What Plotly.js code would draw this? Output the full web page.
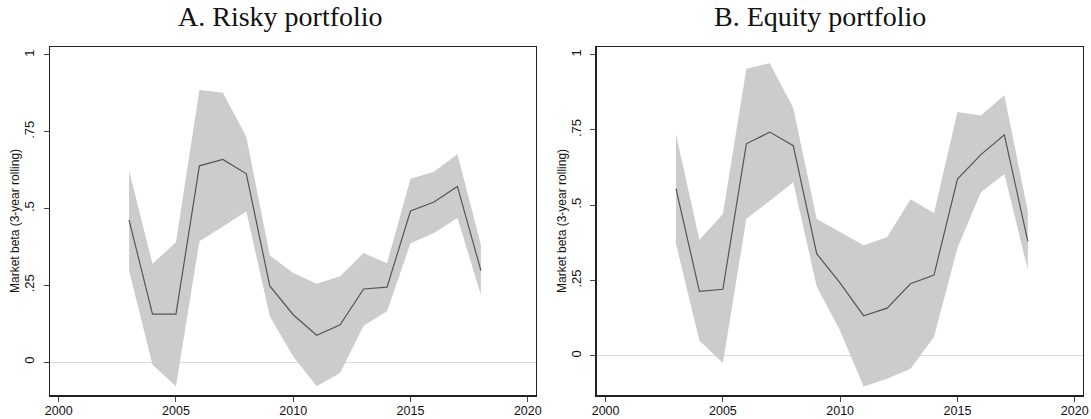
<!DOCTYPE html>
<html>
<head>
<meta charset="utf-8">
<script src="https://cdn.plot.ly/plotly-3.0.1.min.js"></script>
<style>html,body{margin:0;padding:0;background:#fff;}#chart{width:1091px;height:419px;}</style>
</head>
<body>
<div id="chart"></div>
<script>
const years = [2003,2004,2005,2006,2007,2008,2009,2010,2011,2012,2013,2014,2015,2016,2017,2018];

const riskyBeta  = [0.463,0.156,0.156,0.639,0.660,0.613,0.248,0.154,0.087,0.121,0.238,0.244,0.492,0.521,0.572,0.298];
const riskyUpper = [0.624,0.320,0.390,0.886,0.877,0.734,0.347,0.290,0.255,0.279,0.355,0.322,0.597,0.620,0.677,0.382];
const riskyLower = [0.298,-0.009,-0.079,0.393,0.441,0.490,0.149,0.018,-0.079,-0.036,0.118,0.165,0.387,0.420,0.469,0.219];

const equityBeta  = [0.555,0.214,0.221,0.704,0.743,0.698,0.339,0.241,0.133,0.158,0.239,0.268,0.587,0.668,0.734,0.380];
const equityUpper = [0.736,0.385,0.471,0.953,0.972,0.823,0.454,0.411,0.367,0.394,0.520,0.474,0.810,0.798,0.865,0.480];
const equityLower = [0.372,0.050,-0.024,0.455,0.515,0.576,0.230,0.083,-0.102,-0.076,-0.043,0.062,0.358,0.543,0.604,0.286];

const xTicks = [2000,2005,2010,2015,2020];
const yTickVals = [0,0.25,0.5,0.75,1];
const yTickText = ['0','.25','.5','.75','1'];
const panelTitles = ['A. Risky portfolio','B. Equity portfolio'];
const yTitle = 'Market beta (3-year rolling)';

const bandColor = '#cccccc';
const lineColor = '#555555';

function panel(lower, upper, mid, xa, ya) {
  return [
    {x: years, y: lower, xaxis: xa, yaxis: ya, type: 'scatter', mode: 'lines',
     line: {width: 0, color: bandColor}, hoverinfo: 'skip', showlegend: false},
    {x: years, y: upper, xaxis: xa, yaxis: ya, type: 'scatter', mode: 'lines',
     fill: 'tonexty', fillcolor: bandColor, line: {width: 0, color: bandColor}, showlegend: false},
    {x: years, y: mid, xaxis: xa, yaxis: ya, type: 'scatter', mode: 'lines',
     line: {width: 1.2, color: lineColor}, showlegend: false}
  ];
}

const data = [].concat(
  panel(riskyLower, riskyUpper, riskyBeta, 'x', 'y'),
  panel(equityLower, equityUpper, equityBeta, 'x2', 'y2')
);

const xTickFont = {family: 'Liberation Sans, Arial, sans-serif', size: 12.5, color: '#111'};
const yTickFont = {family: 'Liberation Sans, Arial, sans-serif', size: 13, color: '#111'};
function xaxis(domain, range) {
  return {domain: domain, range: range, tickvals: xTicks, ticks: 'outside', ticklen: 5,
    tickcolor: '#444', tickwidth: 1, showgrid: false, zeroline: false,
    showline: true, mirror: true, linecolor: '#222', linewidth: 1.5, tickfont: xTickFont,
    ticklabelstandoff: -2};
}
function yaxis(range, anchor) {
  return {domain: [0.0561, 0.8878], range: range, anchor: anchor, tickvals: yTickVals, ticktext: yTickText,
    tickangle: -90, ticks: 'outside', ticklen: 5, tickcolor: '#444', tickwidth: 1,
    ticklabelstandoff: 4,
    showgrid: false, zeroline: true, zerolinecolor: '#dcdcdc', zerolinewidth: 1,
    showline: true, mirror: true, linecolor: '#222', linewidth: 1.5, tickfont: yTickFont};
}

const titleFont = {family: 'Liberation Serif, Times New Roman, serif', size: 28, color: '#111'};
const yTitleFont = {family: 'Liberation Sans, Arial, sans-serif', size: 12, color: '#111'};
const yMid = 1 - 221/419;

const layout = {
  width: 1091, height: 419,
  margin: {l: 0, r: 0, t: 0, b: 0},
  paper_bgcolor: '#fff', plot_bgcolor: '#fff',
  showlegend: false,
  xaxis: Object.assign(xaxis([0.04583, 0.49129], [1999.63, 2020.35]), {anchor: 'y'}),
  yaxis: yaxis([-0.109, 1.026], 'x'),
  xaxis2: Object.assign(xaxis([0.54693, 0.99239], [1999.62, 2020.34]), {anchor: 'y2'}),
  yaxis2: yaxis([-0.132, 1.0256], 'x2'),
  annotations: [
    {text: panelTitles[0], xref: 'paper', yref: 'paper', x: 280/1091, y: 1 - 16/419,
     xanchor: 'center', yanchor: 'middle', showarrow: false, font: titleFont},
    {text: panelTitles[1], xref: 'paper', yref: 'paper', x: 820/1091, y: 1 - 16/419,
     xanchor: 'center', yanchor: 'middle', showarrow: false, font: titleFont},
    {text: yTitle, xref: 'paper', yref: 'paper', x: 15/1091, y: yMid, textangle: -90,
     xanchor: 'center', yanchor: 'middle', showarrow: false, font: yTitleFont},
    {text: yTitle, xref: 'paper', yref: 'paper', x: 562/1091, y: yMid, textangle: -90,
     xanchor: 'center', yanchor: 'middle', showarrow: false, font: yTitleFont}
  ]
};

Plotly.newPlot('chart', data, layout, {staticPlot: true, displayModeBar: false});
</script>
</body>
</html>
